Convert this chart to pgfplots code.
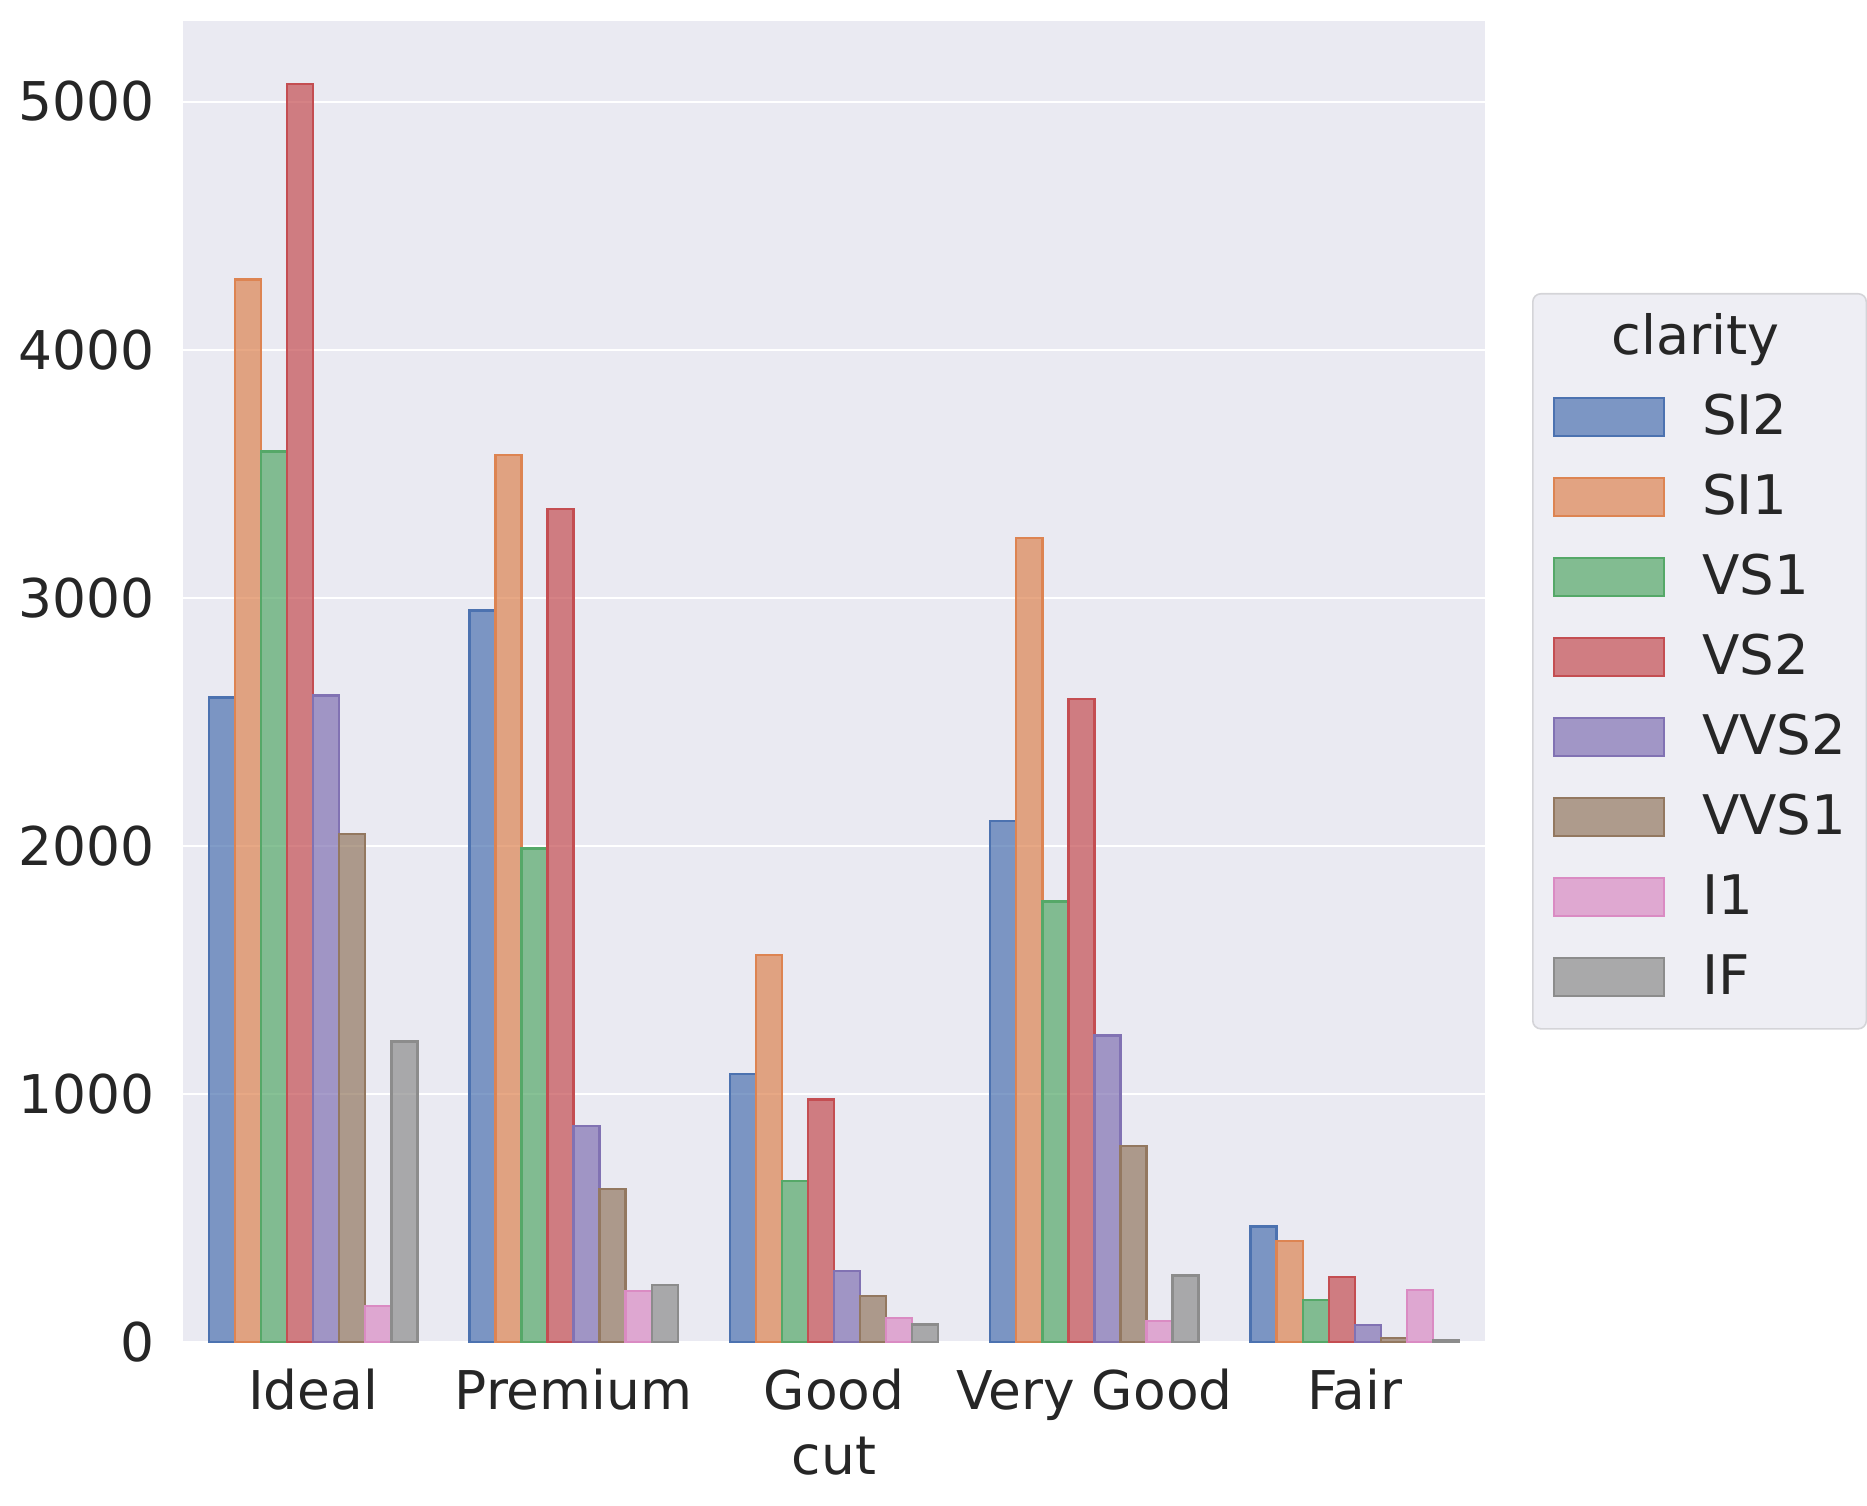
\documentclass[border=0pt]{standalone}
\usepackage{pgfplots}
\pgfplotsset{compat=1.18}
\usepackage{pgfplotstable}
\usepackage{fontspec}
\setmainfont{DejaVu Sans}
\definecolor{bg}{HTML}{EAEAF2}
\definecolor{txt}{HTML}{262626}
\definecolor{cA}{HTML}{4C72B0}
\definecolor{cB}{HTML}{DD8452}
\definecolor{cC}{HTML}{55A868}
\definecolor{cD}{HTML}{C44E52}
\definecolor{cE}{HTML}{8172B3}
\definecolor{cF}{HTML}{937860}
\definecolor{cG}{HTML}{DA8BC3}
\definecolor{cH}{HTML}{8C8C8C}
\definecolor{legfill}{HTML}{EEEEF4}
\definecolor{legdraw}{HTML}{D4D4D8}
\pgfplotstableread{
x SI2 SI1 VS1 VS2 VVS2 VVS1 I1 IF
0 2598 4282 3589 5071 2606 2047 146 1212
1 2949 3575 1989 3357 870 616 205 230
2 1081 1560 648 978 286 186 96 71
3 2100 3240 1775 2591 1235 789 84 268
4 466 408 170 261 69 17 210 9
}\counts
\begin{document}
\begin{tikzpicture}
\useasboundingbox (-91.5pt,-81.5pt) rectangle (842pt,671pt);
\begin{axis}[
  at={(0,0)}, anchor=south west,
  scale only axis, width=651pt, height=660.5pt,
  xmin=-0.5, xmax=4.5, ymin=0, ymax=5324.55,
  axis background/.style={fill=bg},
  axis line style={draw=none},
  major tick length=0pt,
  ymajorgrids, grid style={white, line width=1pt},
  xtick={0,1,2,3,4},
  xticklabels={Ideal,Premium,Good,Very Good,Fair},
  ytick={0,1000,2000,3000,4000,5000},
  /pgf/number format/assume math mode=true,
  /pgf/number format/1000 sep={},
  ticklabel style={font=\fontsize{26.7}{31}\selectfont, text=txt},
  xticklabel style={anchor=base, inner sep=0pt, yshift=-33.5pt},
  yticklabel style={anchor=east, inner sep=0pt, xshift=-14pt},
  xlabel={cut},
  xlabel style={at={(axis description cs:0.5,0)}, anchor=base, inner sep=0pt, yshift=-66pt, font=\fontsize{26.7}{31}\selectfont, text=txt},
  ybar, bar width=0.1,
  every axis plot/.append style={line width=1.2pt, fill opacity=0.7, draw opacity=1},
  legend image code/.code={\draw[#1, sharp corners] (0pt,-7.25pt) rectangle (55pt,11.75pt);},
  legend cell align=left,
  legend style={at={(axis description cs:1,1)}, anchor=north west, xshift=23.5pt, yshift=-136pt,
    draw=legdraw, fill=legfill, line width=0.8pt, rounded corners=4pt,
    inner xsep=10pt, inner ysep=15pt, column sep=18.5pt, row sep=18.9pt,
    font=\fontsize{27.3}{32}\selectfont, text=txt,
    nodes={inner sep=0pt, text height=15.5pt, text depth=2pt}},
]
\addlegendimage{empty legend}
\addlegendentry{\makebox[0pt]{\fontsize{27}{32}\selectfont clarity\hspace*{7.5pt}}}
\addplot[fill=cA, draw=cA, bar shift=-0.35] table[x=x, y=SI2] {\counts};
\addlegendentry{SI2}
\addplot[fill=cB, draw=cB, bar shift=-0.25] table[x=x, y=SI1] {\counts};
\addlegendentry{SI1}
\addplot[fill=cC, draw=cC, bar shift=-0.15] table[x=x, y=VS1] {\counts};
\addlegendentry{VS1}
\addplot[fill=cD, draw=cD, bar shift=-0.05] table[x=x, y=VS2] {\counts};
\addlegendentry{VS2}
\addplot[fill=cE, draw=cE, bar shift=0.05] table[x=x, y=VVS2] {\counts};
\addlegendentry{VVS2}
\addplot[fill=cF, draw=cF, bar shift=0.15] table[x=x, y=VVS1] {\counts};
\addlegendentry{VVS1}
\addplot[fill=cG, draw=cG, bar shift=0.25] table[x=x, y=I1] {\counts};
\addlegendentry{I1}
\addplot[fill=cH, draw=cH, bar shift=0.35] table[x=x, y=IF] {\counts};
\addlegendentry{IF}
\end{axis}
\end{tikzpicture}
\end{document}
